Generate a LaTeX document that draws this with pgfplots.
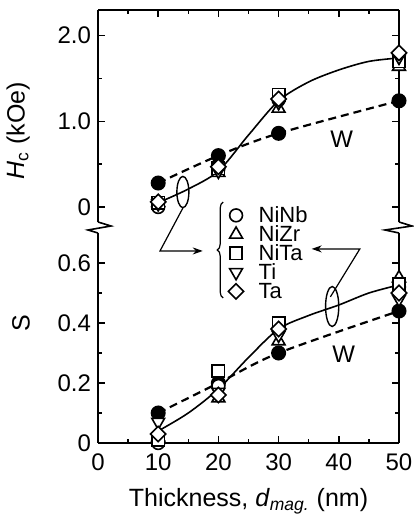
\documentclass[border=0pt]{standalone}
\usepackage{fontspec}
\setmainfont{Liberation Sans}
\usepackage{pgfplots}
\pgfplotsset{compat=1.18}
\usetikzlibrary{arrows.meta, decorations.pathreplacing}

\pgfplotsset{
  panel/.style={
    scale only axis, width=150.5pt,
    xmin=0, xmax=50,
    xtick={0,10,...,50}, minor xtick={5,15,...,45},
    tick align=inside,
    major tick length=3.5pt, minor tick length=2pt,
    axis y line*=box,
    axis line style={line width=0.8pt, -},
    every tick/.style={black, line width=0.8pt},
    tick label style={font=\fontsize{12}{12}\selectfont},
    label style={font=\fontsize{12.5}{14}\selectfont},
    ylabel shift=7pt,
    /pgf/number format/assume math mode=true,
    clip=false,
  },
  fit/.style={black, line width=0.8pt, smooth, no markers, forget plot},
  wser/.style={black, line width=1.1pt, dash pattern=on 4pt off 2.5pt, smooth,
    mark=*, mark size=3.2pt, mark options={solid, fill=black}, forget plot},
  mk/.style={black, only marks, mark options={fill=white, line width=0.8pt}},
  nb/.style={mk, mark=*, mark size=3.2pt},
  zr/.style={mk, mark=triangle*, mark size=3.7pt},
  nt/.style={mk, mark=square*, mark size=3.1pt},
  ti/.style={mk, mark=triangle*, mark size=3.7pt, mark options={rotate=180, fill=white, line width=0.8pt}},
  ta/.style={mk, mark=square*, mark size=2.7pt, mark options={rotate=45, fill=white, line width=0.8pt}},
}

\begin{document}
\begin{tikzpicture}
\path[use as bounding box] (-49pt,-38pt) rectangle (157.5pt,221.5pt);

% lower panel: S
\begin{axis}[panel, name=bot, height=105pt,
  ymin=0, ymax=0.70,
  axis x line*=bottom, xtick pos=left,
  xticklabel shift=2pt, xlabel shift=2pt,
  ytick={0,0.2,0.4,0.6}, yticklabels={0,0.2,0.4,0.6},
  minor ytick={0.1,0.3,0.5},
  xlabel={Thickness, \textit{d}\textsubscript{\textit{mag.}} (nm)},
  ylabel={S}, ylabel style={at={(ticklabel cs:0.57)}},
]
\addplot[fit] coordinates {(10,0.04)(15,0.10)(20,0.18)(25,0.285)(30,0.38)(35,0.425)(40,0.46)(45,0.50)(50,0.527)};
\addplot[wser] coordinates {(10,0.10)(20,0.20)(30,0.30)(50,0.44)};
\addplot[nb] coordinates {(10,0.0)(20,0.19)(30,0.38)(50,0.52)};
\addplot[zr] coordinates {(10,0.02)(20,0.15)(30,0.34)(50,0.55)};
\addplot[nt] coordinates {(10,0.01)(20,0.24)(30,0.40)(50,0.53)};
\addplot[ti] coordinates {(10,0.07)(20,0.17)(30,0.36)(50,0.48)};
\addplot[ta] coordinates {(10,0.03)(20,0.16)(30,0.38)(50,0.50)};
\draw[line width=0.7pt] (axis cs:38.9,0.455) ellipse [x radius=3.3pt, y radius=10pt];
\draw[line width=0.6pt, -{Stealth[length=5pt, width=3.5pt]}]
  (axis cs:38.6,0.487) -- (axis cs:43.5,0.647) -- (axis cs:35.5,0.647);
\node[font=\fontsize{12}{12}\selectfont] at (axis cs:40.8,0.297) {W};
\end{axis}

% upper panel: Hc
\begin{axis}[panel, at={(0,110.5pt)}, anchor=south west, height=106pt,
  ymin=-0.175, ymax=2.30,
  axis x line*=top, xtick pos=right, xticklabel=\empty,
  ytick={0,1,2}, yticklabels={0,1.0,2.0},
  minor ytick={0.5,1.5},
  ylabel={\textit{H}\textsubscript{c} (kOe)}, ylabel style={at={(ticklabel cs:0.43)}},
  legend style={draw=none, fill=none, at={(axis cs:21.6,0.053)}, anchor=north west,
    inner xsep=0pt,
    font=\fontsize{11}{11}\selectfont, row sep=1pt, column sep=7pt,
    nodes={inner xsep=0.5pt, inner ysep=0.25pt, text height=7.5pt, text depth=0.5pt}},
  legend cell align=left,
]
\addplot[fit] coordinates {(10,0.05)(15,0.21)(20,0.42)(25,0.84)(30,1.24)(35,1.46)(40,1.60)(45,1.70)(50,1.74)};
\addplot[wser] coordinates {(10,0.28)(20,0.60)(30,0.86)(50,1.24)};
\addplot[nb] coordinates {(10,0.0)(20,0.45)(30,1.25)(50,1.78)};
\addlegendentry{NiNb}
\addplot[zr] coordinates {(10,0.05)(20,0.40)(30,1.15)(50,1.64)};
\addlegendentry{NiZr}
\addplot[nt] coordinates {(10,0.05)(20,0.45)(30,1.31)(50,1.70)};
\addlegendentry{NiTa}
\addplot[ti] coordinates {(10,0.04)(20,0.42)(30,1.22)(50,1.75)};
\addlegendentry{Ti}
\addplot[ta] coordinates {(10,0.06)(20,0.47)(30,1.26)(50,1.80)};
\addlegendentry{Ta}
\draw[line width=0.7pt] (axis cs:14.1,0.175) ellipse [x radius=3pt, y radius=7.8pt];
\draw[line width=0.6pt, -{Stealth[length=5pt, width=3.5pt]}]
  (axis cs:14.1,-0.012) -- (axis cs:10.3,-0.513) -- (axis cs:17.4,-0.513);
\draw[line width=0.6pt, decorate, decoration={brace, amplitude=3pt}]
  (axis cs:20.8,-1.062) -- (axis cs:20.8,0.058);
\node[font=\fontsize{12}{12}\selectfont] at (axis cs:40.5,0.79) {W};
\end{axis}

% axis breaks
\draw[line width=0.8pt] (0,110.5pt) -- (6.5pt,108.5pt) -- (-5pt,106.5pt) -- (0,105pt);
\draw[line width=0.8pt] (150.5pt,110.5pt) -- (157pt,108.5pt) -- (143.5pt,106.5pt) -- (150.5pt,105pt);
\end{tikzpicture}
\end{document}
